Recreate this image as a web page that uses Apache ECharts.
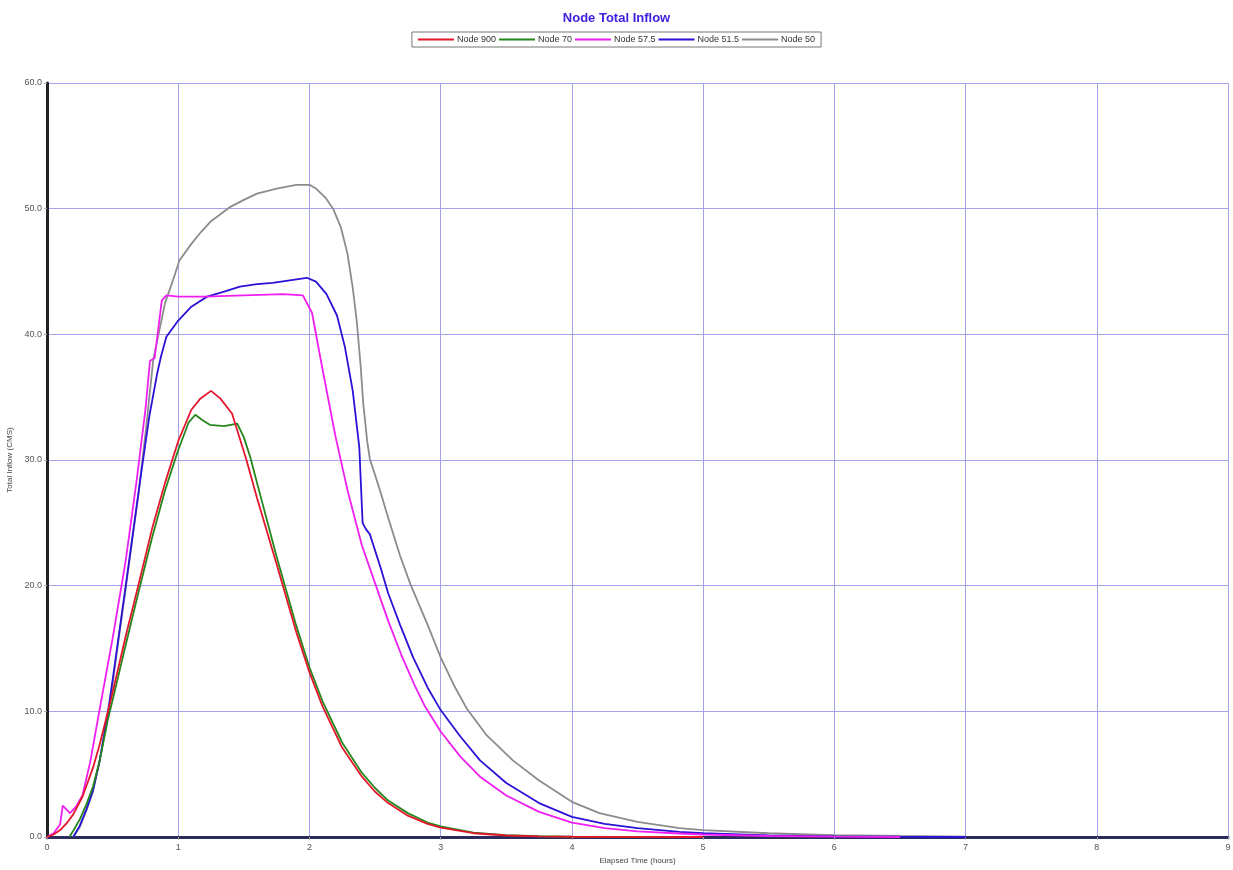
<!DOCTYPE html>
<html>
<head>
<meta charset="utf-8">
<script src="https://cdn.jsdelivr.net/npm/echarts@6/dist/echarts.min.js"></script>
<style>
html,body{margin:0;padding:0;background:#fff;}
#chart{width:1233px;height:870px;}
</style>
</head>
<body>
<div id="chart"></div>
<script>
const titleText = 'Node Total Inflow';
const seriesNames = ['Node 900', 'Node 70', 'Node 57.5', 'Node 51.5', 'Node 50'];
const xTicks = [0, 1, 2, 3, 4, 5, 6, 7, 8, 9];
const yTicks = [0, 10, 20, 30, 40, 50, 60];

// [elapsed hours, inflow CMS]
const node900 = [[0,0],[0.05,0.2],[0.1,0.55],[0.15,1.1],[0.2,1.8],[0.27,3.2],[0.35,5.5],[0.4,7.3],[0.465,10],[0.5,11.5],[0.6,16],[0.7,20.2],[0.8,24.5],[0.9,28.2],[1.0,31.5],[1.1,34],[1.17,34.9],[1.25,35.5],[1.32,34.9],[1.41,33.7],[1.52,30],[1.6,27],[1.75,21.7],[1.9,16.3],[2.0,13.1],[2.1,10.4],[2.25,7.1],[2.4,4.8],[2.5,3.6],[2.6,2.7],[2.75,1.7],[2.9,1.05],[3.0,0.75],[3.25,0.3],[3.5,0.12],[3.75,0.05],[4,0.02],[5,0]];
const node70 = [[0.17,0],[0.2,0.5],[0.25,1.4],[0.3,2.6],[0.35,4],[0.4,6],[0.465,9.4],[0.5,10.9],[0.6,15.3],[0.7,19.6],[0.8,23.8],[0.9,27.6],[1.0,30.8],[1.08,33],[1.13,33.6],[1.18,33.2],[1.24,32.8],[1.35,32.7],[1.45,32.9],[1.5,31.8],[1.55,30.2],[1.6,28.2],[1.75,22.3],[1.9,16.8],[2.0,13.5],[2.1,10.8],[2.25,7.5],[2.4,5.1],[2.5,3.9],[2.6,2.9],[2.75,1.9],[2.9,1.15],[3.0,0.85],[3.25,0.35],[3.5,0.15],[3.75,0.06],[4,0.02],[5,0]];
const node57_5 = [[0,0],[0.05,0.3],[0.1,1.0],[0.12,2.5],[0.175,1.9],[0.22,2.4],[0.27,3.3],[0.33,6],[0.4,10.1],[0.5,15.8],[0.6,22],[0.686,28.6],[0.75,34],[0.785,37.9],[0.82,38.1],[0.875,42.7],[0.91,43.1],[1.0,43],[1.2,43],[1.5,43.1],[1.8,43.2],[1.95,43.1],[2.02,41.7],[2.1,37.2],[2.2,31.8],[2.29,27.6],[2.4,23.2],[2.5,20.2],[2.6,17.2],[2.7,14.5],[2.8,12.1],[2.88,10.4],[3.0,8.4],[3.15,6.4],[3.3,4.8],[3.5,3.3],[3.75,2],[4.0,1.15],[4.25,0.7],[4.5,0.45],[4.82,0.28],[5.0,0.2],[5.5,0.08],[6,0.03],[6.5,0]];
const node51_5 = [[0.2,0],[0.25,0.9],[0.3,2.2],[0.35,3.7],[0.4,6],[0.465,10],[0.5,12.5],[0.6,20],[0.71,28.4],[0.78,33.5],[0.84,36.9],[0.87,38.3],[0.91,39.8],[1.0,41.1],[1.1,42.2],[1.22,43],[1.35,43.4],[1.47,43.8],[1.6,44],[1.72,44.1],[1.85,44.3],[1.98,44.5],[2.05,44.2],[2.13,43.2],[2.21,41.5],[2.27,39],[2.33,35.5],[2.38,31],[2.405,25],[2.43,24.5],[2.46,24.1],[2.54,21.5],[2.6,19.4],[2.69,16.9],[2.79,14.3],[2.9,11.9],[3.0,10.1],[3.15,8],[3.3,6.1],[3.5,4.3],[3.75,2.7],[4.0,1.6],[4.25,1.05],[4.5,0.7],[4.82,0.4],[5.0,0.3],[5.5,0.12],[6,0.05],[6.5,0.02],[7,0]];
const node50 = [[0.2,0],[0.25,0.8],[0.3,2.1],[0.35,3.6],[0.4,6],[0.47,10],[0.5,12.2],[0.6,19.8],[0.7,27.5],[0.76,33],[0.81,38],[0.84,39.5],[0.9,42.5],[0.96,44.3],[1.01,45.9],[1.1,47.2],[1.17,48.1],[1.25,49],[1.39,50.1],[1.5,50.7],[1.6,51.2],[1.75,51.6],[1.9,51.9],[2.0,51.9],[2.05,51.6],[2.12,50.9],[2.18,50],[2.24,48.5],[2.29,46.4],[2.33,43.7],[2.36,41.1],[2.39,37.5],[2.41,34.5],[2.44,31.5],[2.46,30.1],[2.5,28.8],[2.54,27.5],[2.6,25.4],[2.69,22.4],[2.77,20.1],[2.9,16.9],[3.0,14.3],[3.1,12.1],[3.2,10.2],[3.35,8.1],[3.55,6.1],[3.75,4.5],[4.0,2.8],[4.21,1.9],[4.5,1.2],[4.82,0.7],[5.0,0.55],[5.5,0.3],[6.0,0.15],[6.5,0.08],[7.0,0.03]];

const seriesData = [node900, node70, node57_5, node51_5, node50];
const colors = ['#e3162c', '#25861c', '#f01ef0', '#2a12d6', '#8c8c8c'];
const fontFam = 'Liberation Sans, Arial, sans-serif';

const chart = echarts.init(document.getElementById('chart'));
chart.setOption({
  animation: false,
  title: {
    text: titleText, left: 'center', top: 7,
    textStyle: { color: '#3c22e0', fontSize: 13, fontWeight: 'bold', fontFamily: fontFam }
  },
  legend: {
    data: seriesNames, left: 'center', top: 32,
    padding: [3, 6], itemGap: 3, itemWidth: 36, itemHeight: 2, icon: 'rect',
    borderColor: '#777', borderWidth: 1, backgroundColor: '#fff',
    textStyle: { fontSize: 9, color: '#333', fontFamily: fontFam, padding: [0, 0, 0, -2] }
  },
  grid: { left: 47, right: 5, top: 83, bottom: 33, containLabel: false, outerBoundsMode: 'none' },
  xAxis: {
    type: 'value', min: xTicks[0], max: xTicks[xTicks.length - 1], interval: 1,
    name: 'Elapsed Time (hours)', nameLocation: 'middle', nameGap: 18,
    nameTextStyle: { fontSize: 8, color: '#444', fontFamily: fontFam },
    axisLine: { onZero: false, lineStyle: { color: '#2b2b5e', width: 3 } },
    axisTick: { show: true, length: 3, lineStyle: { color: '#aaa' } },
    axisLabel: { fontSize: 9, color: '#555', margin: 6, fontFamily: fontFam },
    splitLine: { show: true, lineStyle: { color: '#a4a4ee', width: 1 } }
  },
  yAxis: {
    type: 'value', min: yTicks[0], max: yTicks[yTicks.length - 1], interval: 10,
    name: 'Total Inflow (CMS)', nameLocation: 'middle', nameGap: 31, nameRotate: 90,
    nameTextStyle: { fontSize: 8, color: '#444', fontFamily: fontFam },
    axisLine: { show: true, onZero: false, lineStyle: { color: '#222', width: 3 } },
    axisTick: { show: true, length: 3, lineStyle: { color: '#aaa' } },
    axisLabel: { fontSize: 9, color: '#555', margin: 5, formatter: v => v.toFixed(1), fontFamily: fontFam },
    splitLine: { show: true, lineStyle: { color: '#a4a4ee', width: 1 } }
  },
  series: seriesNames.map((n, i) => ({
    name: n, type: 'line', data: seriesData[i], showSymbol: false, symbol: 'none',
    smooth: false, lineStyle: { color: colors[i], width: 1.8 }, itemStyle: { color: colors[i] },
    z: 10 - i
  }))
});
</script>
</body>
</html>
